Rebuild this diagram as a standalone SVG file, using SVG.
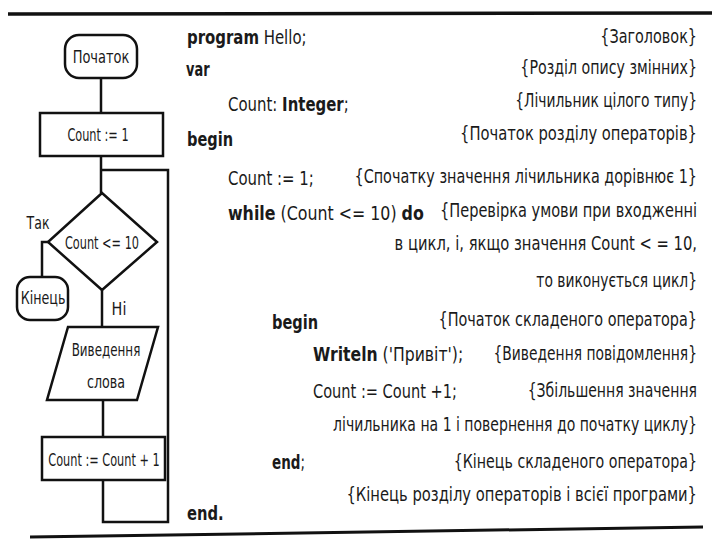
<svg xmlns="http://www.w3.org/2000/svg" width="720" height="540" viewBox="0 0 720 540">
<style>
.s{fill:none;stroke:#111;stroke-width:2.5}
.t{font-family:"DejaVu Sans Condensed","DejaVu Sans",sans-serif;font-size:20px;fill:#1a1a1a}
.b{font-weight:bold}
.f{font-family:"DejaVu Sans Condensed","DejaVu Sans",sans-serif;font-size:17px;fill:#1a1a1a;text-anchor:middle}
.e{text-anchor:end}
</style>
<rect width="720" height="540" fill="#fff"/>
<line x1="8" y1="14" x2="712" y2="13" stroke="#111" stroke-width="3.5"/>
<line x1="30" y1="537" x2="703" y2="527" stroke="#111" stroke-width="3"/>
<g id="connectors" class="s">
<path d="M101,78 V113"/>
<path d="M101,156 V193"/>
<path d="M101,170 H168 V522 H103 V480"/>
<path d="M50,242 H42 V277"/>
<path d="M102,290 V327"/>
<path d="M103,400 V437"/>
</g>
<g id="start"><rect class="s" x="65" y="35" width="72" height="43" rx="14"/><text class="f" transform="translate(101,63) scale(0.85,1)">Початок</text></g>
<g id="init"><rect class="s" x="40" y="113" width="123" height="43"/><text class="f" transform="translate(98,141) scale(0.74,1)">Count := 1</text></g>
<g id="cond"><polygon class="s" points="102,193 157,242 102,290 48,242"/><text class="f" transform="translate(102,249) scale(0.74,1)">Count &lt;= 10</text></g>
<g id="yes-label"><text class="f" transform="translate(38,229) scale(0.82,1)">Так</text></g>
<g id="end"><rect class="s" x="17" y="277" width="51" height="43" rx="13"/><text class="f" transform="translate(43,304) scale(0.83,1)">Кінець</text></g>
<g id="no-label"><text class="f" transform="translate(119,315) scale(0.94,1)">Ні</text></g>
<g id="output"><polygon class="s" points="68,327 158,327 137,400 47,400"/><text class="f" transform="translate(106,356) scale(0.78,1)">Виведення</text><text class="f" transform="translate(106,388) scale(0.83,1)">слова</text></g>
<g id="incr"><rect class="s" x="42" y="437" width="123" height="43"/><text class="f" transform="translate(104,466) scale(0.74,1)">Count := Count + 1</text></g>
<g id="code">
<text class="t" transform="translate(187,44) scale(0.83,1)"><tspan class="b">program</tspan> Hello;</text>
<text class="t b" transform="translate(186,76) scale(0.72,1)">var</text>
<text class="t" transform="translate(228,111) scale(0.83,1)">Count: <tspan class="b">Integer</tspan>;</text>
<text class="t b" transform="translate(187,146) scale(0.81,1)">begin</text>
<text class="t" transform="translate(228,185) scale(0.83,1)">Count := 1;</text>
<text class="t" transform="translate(228,220) scale(0.88,1)"><tspan class="b">while</tspan> (Count &lt;= 10) <tspan class="b">do</tspan></text>
<text class="t b" transform="translate(272,329) scale(0.81,1)">begin</text>
<text class="t" transform="translate(313,361) scale(0.87,1)"><tspan class="b">Writeln</tspan> ('Привіт');</text>
<text class="t" transform="translate(313,398) scale(0.81,1)">Count := Count +1;</text>
<text class="t" transform="translate(272,469) scale(0.75,1)"><tspan class="b">end</tspan>;</text>
<text class="t b" transform="translate(187,520) scale(0.82,1)">end.</text>
</g>
<g id="comments" class="t e">
<text transform="translate(697,43) scale(0.8,1)">{Заголовок}</text>
<text transform="translate(697,74) scale(0.79,1)">{Розділ опису змінних}</text>
<text transform="translate(697,107) scale(0.77,1)">{Лічильник цілого типу}</text>
<text transform="translate(697,140) scale(0.82,1)">{Початок розділу операторів}</text>
<text transform="translate(697,183) scale(0.8,1)">{Спочатку значення лічильника дорівнює 1}</text>
<text transform="translate(697,217) scale(0.81,1)">{Перевірка умови при входженні</text>
<text transform="translate(697,250) scale(0.82,1)">в цикл, і, якщо значення Count &lt; = 10,</text>
<text transform="translate(697,287) scale(0.77,1)">то виконується цикл}</text>
<text transform="translate(697,326) scale(0.8,1)">{Початок складеного оператора}</text>
<text transform="translate(697,360) scale(0.77,1)">{Виведення повідомлення}</text>
<text transform="translate(697,397) scale(0.78,1)">{Збільшення значення</text>
<text transform="translate(697,431) scale(0.78,1)">лічильника на 1 і повернення до початку циклу}</text>
<text transform="translate(697,468) scale(0.79,1)">{Кінець складеного оператора}</text>
<text transform="translate(697,501) scale(0.82,1)">{Кінець розділу операторів і всієї програми}</text>
</g>
</svg>
